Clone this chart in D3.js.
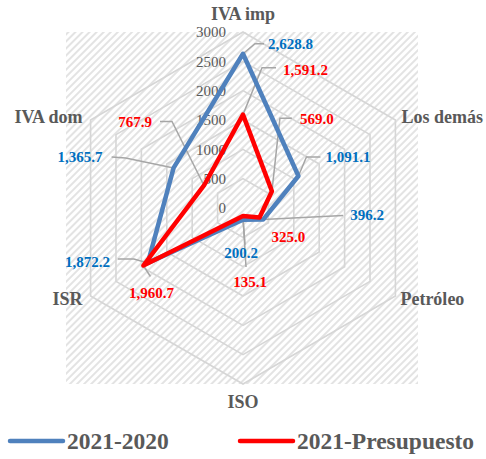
<!DOCTYPE html>
<html>
<head>
<meta charset="utf-8">
<script src="https://cdn.jsdelivr.net/npm/d3@7"></script>
<style>
  body { margin: 0; background: #fff; }
  svg { display: block; }
  text { font-family: "Liberation Serif", "Times New Roman", serif; }
</style>
</head>
<body>
<div id="chart"></div>
<script>
// chart data
var axes = ["IVA imp", "Los demás", "Petróleo", "ISO", "ISR", "IVA dom"];
var seriesNames = ["2021-2020", "2021-Presupuesto"];
var values2020 = [2628.8, 1091.1, 396.2, 200.2, 1872.2, 1365.7];
var valuesPres = [1591.2, 569.0, 325.0, 135.1, 1960.7, 767.9];
var ticks = [0, 500, 1000, 1500, 2000, 2500, 3000];

var width = 486,
    height = 459,
    cx = 243,
    cy = 208,
    radius = 176;

var lineColors = ["#4f81bd", "#ff0000"],
    labelColors = ["#0070c0", "#ff0000"];

// data label placement: [dx, dy, anchor, leader elbow points]
var labelLayout = [
  [[25, -10, "start", [[12, -10], [21, -10]]],
   [27, -19, "start", [[8, -19], [22, -19]]],
   [87, -5, "start", [[80, -4]]],
   [-2, 33, "middle", [[2, 25]]],
   [-38, -1, "end", [[-14, -4], [-30, -4]]],
   [-71, -11, "end", [[-48, -10], [-62, -11]]]],
  [[40, -45, "start", [[19, -47], [33, -47]]],
   [28, -73, "start", [[8, -73], [20, -73]]],
   [12, 19, "start", []],
   [7, 66, "middle", [[3, 51]]],
   [8, 27, "middle", [[7, 11]]],
   [-52, -64, "end", [[-32, -64], [-44, -64]]]]
];

var r = d3.scaleLinear().domain([0, 3000]).range([0, radius]);
var angle = d3.scalePoint().domain(axes.map(function(d, i) { return i; }))
    .range([0, 2 * Math.PI * 5 / 6]);

function pos(i, v) {
  var a = angle(i);
  return [cx + r(v) * Math.sin(a), cy - r(v) * Math.cos(a)];
}

var svg = d3.select("#chart").append("svg")
    .attr("width", width)
    .attr("height", height);

// hatched plot background
var defs = svg.append("defs");
var pat = defs.append("pattern")
    .attr("id", "hatch")
    .attr("patternUnits", "userSpaceOnUse")
    .attr("width", 5)
    .attr("height", 5)
    .attr("patternTransform", "rotate(45)");
pat.append("rect").attr("width", 5).attr("height", 5).attr("fill", "#fff");
pat.append("rect").attr("width", 2).attr("height", 5).attr("fill", "#e3e3e3");

svg.append("rect")
    .attr("x", 66)
    .attr("y", cy - radius)
    .attr("width", 352)
    .attr("height", radius * 2)
    .attr("fill", "url(#hatch)");

// grid rings
var ring = d3.line();
svg.append("g").selectAll("path")
    .data(ticks.slice(1))
  .enter().append("path")
    .attr("d", function(t) {
      return ring(axes.map(function(a, i) { return pos(i, t); })) + "Z";
    })
    .attr("fill", "none")
    .attr("stroke", "#d6d6d6")
    .attr("stroke-width", 1.6);

// tick labels
svg.append("g").selectAll("text")
    .data(ticks)
  .enter().append("text")
    .attr("x", cx - 17)
    .attr("y", function(t) { return cy - r(t); })
    .attr("dy", "0.35em")
    .attr("text-anchor", "end")
    .attr("fill", "#595959")
    .style("font-size", "15px")
    .text(function(t) { return t; });

// axis labels
var axisLab = [[0, -18, "middle"], [6, -3, "start"], [5, 3, "start"],
               [0, 18, "middle"], [-8, 3, "end"], [-8, -3, "end"]];
svg.append("g").selectAll("text")
    .data(axes)
  .enter().append("text")
    .attr("x", function(d, i) { return pos(i, 3000)[0] + axisLab[i][0]; })
    .attr("y", function(d, i) { return pos(i, 3000)[1] + axisLab[i][1]; })
    .attr("dy", "0.35em")
    .attr("text-anchor", function(d, i) { return axisLab[i][2]; })
    .attr("fill", "#595959")
    .style("font-size", "18px")
    .style("font-weight", "bold")
    .text(function(d) { return d; });

var series = [values2020, valuesPres];

// leader lines (skip labels without a leader)
series.forEach(function(vals, s) {
  var pts = vals.map(function(v, i) {
    var p = pos(i, v);
    return [p].concat(labelLayout[s][i][3].map(function(o) { return [p[0] + o[0], p[1] + o[1]]; }));
  }).filter(function(d) { return d.length > 1; });

  svg.append("g").selectAll("path")
      .data(pts)
    .enter().append("path")
      .attr("d", d3.line())
      .attr("fill", "none")
      .attr("stroke", "#a6a6a6")
      .attr("stroke-width", 1.5);
});

// series lines
var radarLine = d3.lineRadial()
    .angle(function(v, i) { return angle(i); })
    .radius(function(v) { return r(v); })
    .curve(d3.curveLinearClosed);

svg.append("g")
    .attr("transform", "translate(" + cx + "," + cy + ")")
  .selectAll("path")
    .data(series)
  .enter().append("path")
    .attr("d", radarLine)
    .attr("fill", "none")
    .attr("stroke", function(d, s) { return lineColors[s]; })
    .attr("stroke-width", 4.5)
    .attr("stroke-linejoin", "round");

// data labels
series.forEach(function(vals, s) {
  svg.append("g").selectAll("text")
      .data(vals)
    .enter().append("text")
      .attr("x", function(v, i) { return pos(i, v)[0] + labelLayout[s][i][0]; })
      .attr("y", function(v, i) { return pos(i, v)[1] + labelLayout[s][i][1]; })
      .attr("dy", "0.35em")
      .attr("text-anchor", function(v, i) { return labelLayout[s][i][2]; })
      .attr("fill", labelColors[s])
      .style("font-size", "15px")
      .style("font-weight", "bold")
      .text(function(v) { return d3.format(",.1f")(v); });
});

// legend
var legend = svg.append("g").selectAll("g")
    .data(seriesNames)
  .enter().append("g")
    .attr("transform", function(d, i) { return "translate(" + (10 + i * 230) + ",441)"; });

legend.append("line")
    .attr("x1", 0).attr("x2", 53)
    .attr("stroke", function(d, i) { return lineColors[i]; })
    .attr("stroke-width", 4.5)
    .attr("stroke-linecap", "round");

legend.append("text")
    .attr("x", 57)
    .attr("dy", "0.35em")
    .attr("fill", "#595959")
    .style("font-size", "23.5px")
    .style("font-weight", "bold")
    .text(function(d) { return d; });
</script>
</body>
</html>
